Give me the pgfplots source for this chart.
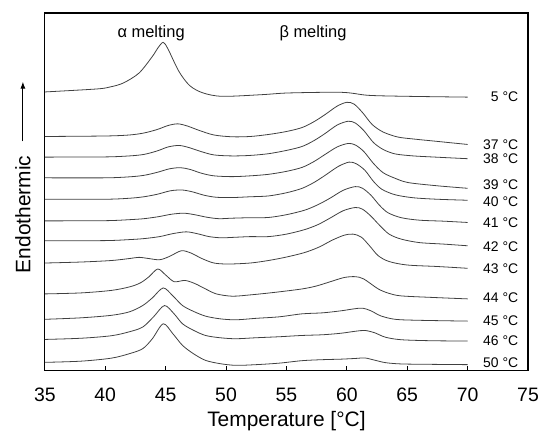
\documentclass[border=0pt]{standalone}
\usepackage{fontspec}
\setmainfont{Liberation Sans}
\usepackage{pgfplots}
\pgfplotsset{compat=1.18}
\usetikzlibrary{arrows.meta}

\begin{document}
\begin{tikzpicture}
\useasboundingbox (-45pt,-66pt) rectangle (496pt,372pt);
\begin{axis}[
  at={(0,0)}, anchor=south west,
  scale only axis, width=485pt, height=359pt,
  xmin=35, xmax=75, ymin=0, ymax=359,
  xtick={35,40,...,75}, ytick=\empty,
  tick align=inside, xtick pos=bottom,
  major tick length=5pt,
  tick style={black, line width=1pt},
  axis line style={black, line width=1.3pt},
  /pgf/number format/assume math mode=true,
  xticklabel style={font=\fontsize{19.5}{20}\selectfont, anchor=base, yshift=-31pt},
  xlabel={Temperature [°C]},
  xlabel style={font=\fontsize{21}{22}\selectfont, at={(axis description cs:0.5,-0.156)}, anchor=base},
  curve/.style={black!75, line width=0.8pt, smooth, tension=0.5, mark=none},
  clip=false,
]
% 5 C
\addplot[curve] coordinates {(35,279.7)(39.3,282.7)(40.4,284.7)(41.5,288.7)(42.8,298.7)(43.9,315.3)(44.35,323.7)(44.8,329.5)(45.2,322.7)(46.1,300.3)(47.0,286)(48.1,278.7)(49.7,275.3)(53,277)(55.2,278.7)(59.6,279.3)(61.8,276.3)(65.1,275.3)(70,274.5)};
% 37 C
\addplot[curve] coordinates {(35,235)(40,235.5)(42,236.5)(43.2,238.5)(44.3,242)(45.2,246)(46,247.7)(46.8,245.5)(47.8,241)(49,236.5)(50.5,234.7)(52,235)(53.5,237)(55,240)(56.3,244)(57.3,250)(58.2,257)(59.2,265.5)(60,269.3)(60.6,267.5)(61.3,259)(62.1,247)(63,239.5)(64.2,234.5)(65.5,232.5)(67.3,230.3)(70,227)};
% 38 C
\addplot[curve] coordinates {(35,214.3)(40,214.5)(42,215.5)(43.2,217)(44.3,220.5)(45.2,224.5)(46.1,226)(46.9,224)(47.9,220)(49,216.5)(50.5,215.5)(52,216)(53.5,217.7)(55,221)(56.3,225)(57.3,231)(58.2,238)(59.2,246.5)(60.1,250.3)(60.7,248.5)(61.4,241)(62.2,229)(63,222)(64,217.5)(65.5,215.5)(67,214.5)(70,212.7)};
% 39 C
\addplot[curve] coordinates {(35,193.5)(40,193.5)(42,194.5)(43.2,196)(44.3,199)(45.3,202.5)(46.2,203.7)(47,202)(48,198)(49,195.5)(50.5,194.7)(52,195.5)(53.5,197)(55,200)(56.3,204)(57.3,210)(58.2,217)(59.2,224.5)(60.1,228)(60.7,226.5)(61.4,220)(62.2,208)(63,198.7)(64,193)(65.1,188.7)(67.5,185.5)(70,183)};
% 40 C
\addplot[curve] coordinates {(35,172)(40,172)(42,173)(43.2,174.5)(44.3,177)(45.4,180.5)(46.35,181.3)(47.2,179.5)(48.2,176)(49.2,174)(50.5,173.7)(52,174.5)(53.5,175.3)(55,178.5)(56.3,183)(57.3,189)(58.2,196)(59.3,205)(60.2,209.3)(60.8,207.5)(61.5,201)(62.2,190)(62.9,182)(64,176.5)(65.5,173.5)(67.5,172)(70,171)};
% 41 C
\addplot[curve] coordinates {(35,150.3)(40,150.5)(42,151.5)(43.2,152.5)(44.4,154.5)(45.5,157)(46.5,158)(47.4,156.5)(48.4,154)(49.4,152.5)(50.5,153)(52,153.5)(53.5,153.7)(55,156.5)(56.5,161)(57.6,166.5)(58.6,173)(59.7,181)(60.7,184.7)(61.3,183)(62,176)(62.7,166)(63.4,158.5)(64.5,153.5)(66,151)(68,150)(70,148.7)};
% 42 C
\addplot[curve] coordinates {(35,130.3)(40,130.5)(42,131.5)(43.2,132.5)(44.5,134.5)(45.6,137.5)(46.7,139.3)(47.6,137.5)(48.6,134.5)(49.6,133.3)(50.5,133.7)(52,134.5)(53.5,134.5)(55,137)(56.5,141.5)(57.6,146.5)(58.6,153)(59.7,160.5)(60.7,163.7)(61.3,162)(62,155)(62.7,146)(63.5,137)(64.5,132)(66,128.5)(68,127)(70,125.3)};
% 43 C
\addplot[curve] coordinates {(35,108)(38,109)(40.5,110.5)(42,112.5)(42.8,113.7)(43.6,112.5)(44.5,111.3)(45.3,114.5)(46.3,120.3)(47.1,118)(48,112.5)(49,108)(50.2,107)(52,108)(53.5,110.5)(55,114)(56.5,118.5)(57.7,124)(58.8,131)(59.8,136)(60.5,137)(61.2,134)(61.9,125)(62.6,115.3)(63.5,109.5)(65,106)(67.5,104.5)(70,102.7)};
% 44 C
\addplot[curve] coordinates {(35,77)(38,78)(40.5,80.5)(42,84)(42.9,88)(43.6,94)(44.35,102)(45,96)(45.7,89.3)(46.6,90.5)(47.4,87.5)(48.3,82)(49.2,77)(50.5,74.7)(52,76)(54,78.5)(56.3,82)(57.5,85)(58.7,89.5)(59.8,93.5)(60.7,94.3)(61.4,92)(62.6,82)(63.5,77.5)(64.5,75)(67,73.5)(70,72)};
% 45 C
\addplot[curve] coordinates {(35,51.5)(38,53)(40.5,55.5)(42,59)(43.1,65.3)(43.9,73)(44.8,83)(45.6,75)(46.4,65.3)(47.3,59.5)(48.3,54.7)(49.5,52)(50.8,51)(52.5,52.5)(54.4,54)(56.3,57)(58,58)(59.5,60)(60.6,62)(61.3,62.7)(62,60)(62.8,55)(64,51.5)(66,50.5)(70,49.7)};
% 46 C
\addplot[curve] coordinates {(35,31.3)(38,32.5)(40.5,35)(42,39)(43.1,43.7)(44,54)(44.9,65.3)(45.7,57)(46.4,47)(47.3,40.5)(48.3,35.3)(49.5,33)(50.8,32)(52.5,33)(54.4,34)(56.3,35.3)(58,36)(59.5,37.5)(60.7,39.5)(61.5,40.3)(62.3,38)(63.2,33.5)(64.5,31)(67,30)(70,29.7)};
% 50 C
\addplot[curve] coordinates {(35,8.3)(38,9.5)(40.5,12.5)(42,17)(43.1,22)(43.9,32)(44.8,47)(45.6,37)(46.4,25.3)(47.3,17)(48.3,10.3)(49.5,7)(50.8,5.3)(52.5,6)(54.4,7.5)(56.3,10)(58,11)(59.5,11.5)(60.7,12.2)(61.5,12.7)(62.3,10.5)(63.2,8)(64.5,6.7)(67,6.3)(70,6)};

\begin{scope}[every node/.style={font=\fontsize{14}{15}\selectfont, anchor=east, inner sep=0pt}]
\node at (axis cs:74.2,275) {5 °C};
\node at (axis cs:74.2,226.3) {37 °C};
\node at (axis cs:74.2,213) {38 °C};
\node at (axis cs:74.2,187) {39 °C};
\node at (axis cs:74.2,169.3) {40 °C};
\node at (axis cs:74.2,148) {41 °C};
\node at (axis cs:74.2,124) {42 °C};
\node at (axis cs:74.2,102) {43 °C};
\node at (axis cs:74.2,73) {44 °C};
\node at (axis cs:74.2,50.3) {45 °C};
\node at (axis cs:74.2,30) {46 °C};
\node at (axis cs:74.2,8) {50 °C};
\end{scope}

\node[font=\fontsize{16.5}{17}\selectfont] at (axis cs:43.8,339) {α melting};
\node[font=\fontsize{16.5}{17}\selectfont] at (axis cs:57.2,339) {β melting};

\node[font=\fontsize{21}{22}\selectfont, rotate=90, inner sep=0pt] at (axis description cs:-0.0454,0.437) {Endothermic};
\draw[line width=1pt, -{Latex[length=7pt,width=5pt]}] (axis description cs:-0.0454,0.6407) -- (axis description cs:-0.0454,0.808);
\end{axis}
\end{tikzpicture}
\end{document}
